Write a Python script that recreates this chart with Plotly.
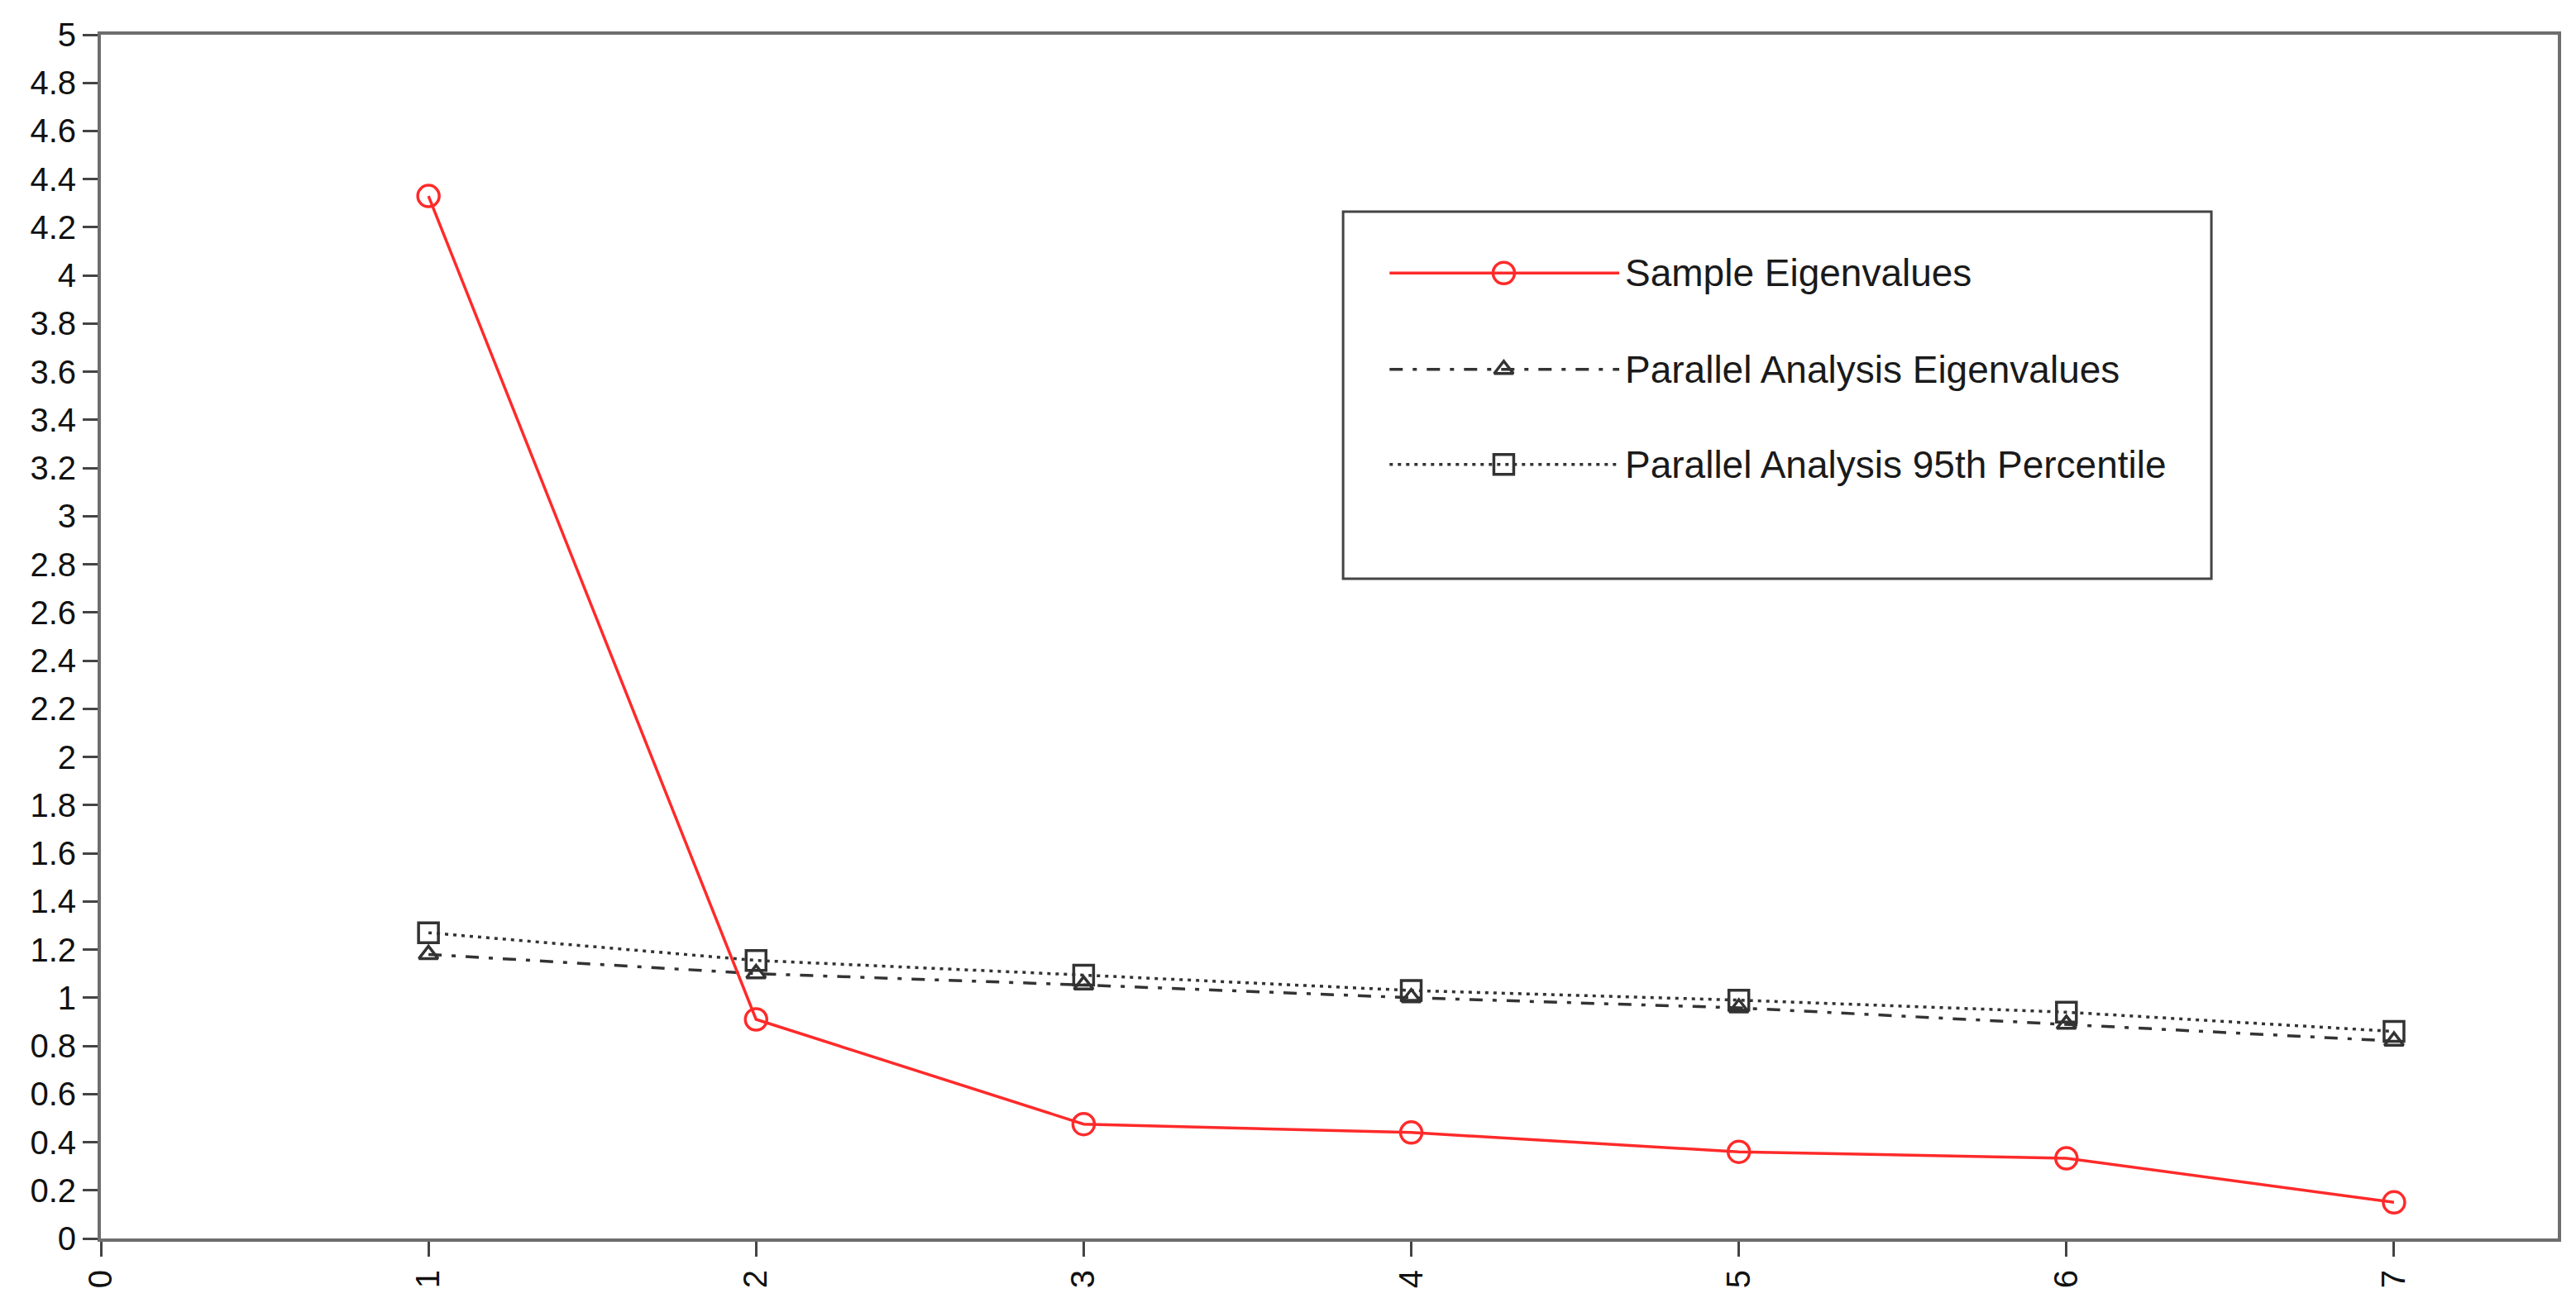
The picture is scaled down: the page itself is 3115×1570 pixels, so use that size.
import plotly.graph_objects as go

# ---- data ----
components = [1, 2, 3, 4, 5, 6, 7]
sample_eigenvalues = [4.33, 0.91, 0.475, 0.44, 0.36, 0.333, 0.15]
parallel_eigenvalues = [1.18, 1.10, 1.053, 1.0, 0.958, 0.89, 0.82]
parallel_95th = [1.27, 1.155, 1.094, 1.03, 0.99, 0.94, 0.86]

series_names = ["Sample Eigenvalues", "Parallel Analysis Eigenvalues", "Parallel Analysis 95th Percentile"]

x_tickvals = [0, 1, 2, 3, 4, 5, 6, 7]
x_ticktext = ["0", "1", "2", "3", "4", "5", "6", "7"]
y_tickvals = [round(i * 0.2, 1) for i in range(26)]
y_ticktext = ["0", "0.2", "0.4", "0.6", "0.8", "1", "1.2", "1.4", "1.6", "1.8", "2",
              "2.2", "2.4", "2.6", "2.8", "3", "3.2", "3.4", "3.6", "3.8", "4",
              "4.2", "4.4", "4.6", "4.8", "5"]

FONT = "Arial, Liberation Sans, sans-serif"
RED = "#ff2a2a"
BLACK = "#333333"

styles = [
    dict(line=dict(color=RED, width=3.5, dash="solid"),
         marker=dict(symbol="circle-open", size=26, color=RED, line=dict(width=3.5, color=RED))),
    dict(line=dict(color=BLACK, width=3.5, dash="16px,12px,5px,12px"),
         marker=dict(symbol="triangle-up-open", size=20, color=BLACK, line=dict(width=3.5, color=BLACK))),
    dict(line=dict(color=BLACK, width=3.5, dash="4px,6px"),
         marker=dict(symbol="square-open", size=24, color=BLACK, line=dict(width=3.5, color=BLACK))),
]

fig = go.Figure()
for ys, name, st in zip([parallel_95th, parallel_eigenvalues, sample_eigenvalues],
                        [series_names[2], series_names[1], series_names[0]],
                        [styles[2], styles[1], styles[0]]):
    fig.add_trace(go.Scatter(x=components, y=ys, mode="lines+markers", name=name,
                             line=st["line"], marker=st["marker"], showlegend=False,
                             cliponaxis=False))

# ---- manual legend (overlay axes spanning the plot area) ----
leg_y = [0.802, 0.722, 0.643]
leg_x0, leg_x1, leg_xm, leg_tx = 0.5245, 0.618, 0.571, 0.6195
for name, st, yy in zip(series_names, styles, leg_y):
    fig.add_trace(go.Scatter(x=[leg_x0, leg_xm, leg_x1], y=[yy, yy, yy], mode="lines",
                             line=st["line"], xaxis="x2", yaxis="y2", showlegend=False,
                             hoverinfo="skip"))
    fig.add_trace(go.Scatter(x=[leg_xm], y=[yy], mode="markers",
                             marker=st["marker"], xaxis="x2", yaxis="y2", showlegend=False,
                             hoverinfo="skip"))
    fig.add_annotation(x=leg_tx, y=yy, xref="paper", yref="paper", text=name,
                       showarrow=False, xanchor="left", yanchor="middle",
                       font=dict(family=FONT, size=46, color="#1a1a1a"))

fig.add_shape(type="rect", xref="paper", yref="paper", x0=0.5056, x1=0.859, y0=0.548, y1=0.853,
              line=dict(color="#444444", width=3), fillcolor="rgba(0,0,0,0)", layer="below")

axis_common = dict(showline=True, linecolor="#6e6e6e", linewidth=4, mirror=True,
                   ticks="outside", ticklen=18, tickwidth=3, tickcolor="#444444",
                   showgrid=False, zeroline=False,
                   tickfont=dict(family=FONT, size=40, color="#111111"))

fig.update_layout(
    width=3115, height=1570,
    paper_bgcolor="white", plot_bgcolor="white",
    margin=dict(l=114, r=30, t=27, b=80),
    xaxis=dict(range=[0, 7.5], tickvals=x_tickvals, ticktext=x_ticktext, tickangle=-90, **axis_common),
    yaxis=dict(range=[0, 5], tickvals=y_tickvals, ticktext=y_ticktext, **axis_common),
    xaxis2=dict(range=[0, 1], overlaying="x", visible=False),
    yaxis2=dict(range=[0, 1], overlaying="y", visible=False),
    showlegend=False,
)

fig.write_html("out.html")
